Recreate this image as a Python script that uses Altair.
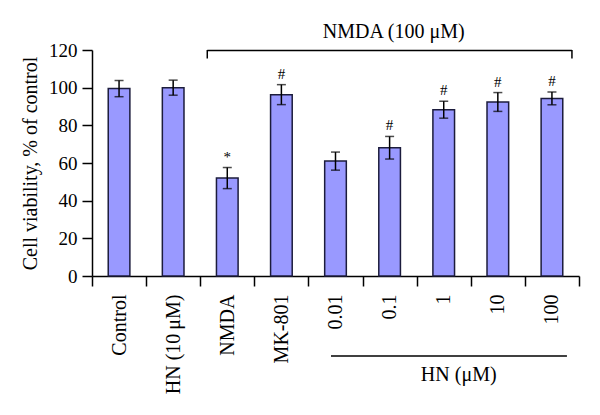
import altair as alt
import pandas as pd

categories = ["Control", "HN (10\u2009\u03bcM)", "NMDA", "MK-801", "0.01", "0.1", "1", "10", "100"]
means = [99.5, 100.0, 52.0, 96.3, 61.0, 68.1, 88.3, 92.4, 94.3]
sds = [4.3, 4.0, 5.6, 5.3, 4.8, 6.0, 4.5, 5.0, 3.4]
signif = ["", "", "*", "#", "", "#", "#", "#", "#"]
y_ticks = [0, 20, 40, 60, 80, 100, 120]

FONT = "Liberation Serif"

df = pd.DataFrame({
    "cat": categories,
    "mean": means,
    "lo": [m - s for m, s in zip(means, sds)],
    "hi": [m + s for m, s in zip(means, sds)],
    "sig": signif,
})

xscale = alt.Scale(domain=categories, paddingInner=0, paddingOuter=0)
xaxis = alt.Axis(
    title=None, labelAngle=270, tickBand="extent",
    labelFont=FONT, labelFontSize=20, labelColor="black",
    tickSize=10, tickColor="black", tickWidth=1.5,
    domainColor="black", domainWidth=1.5, labelPadding=8,
)
yscale = alt.Scale(domain=[0, 120], nice=False)
yaxis = alt.Axis(
    values=y_ticks, grid=False, title="Cell viability, % of control",
    labelFont=FONT, labelFontSize=19, labelColor="black", labelOverlap=False,
    titleFont=FONT, titleFontSize=20, titleFontWeight="normal", titleColor="black",
    tickSize=10, tickColor="black", tickWidth=1.5,
    domainColor="black", domainWidth=1.5, labelPadding=5, titlePadding=8,
)


def X(field):
    return alt.X(field, scale=xscale, axis=xaxis)


def Y(field):
    return alt.Y(field, scale=yscale, axis=yaxis)


base = alt.Chart(df).encode(x=X("cat:N"))

bars = base.mark_bar(
    width=alt.RelativeBandSize(0.4), fill="#9999ff", stroke="#1c1c3c", strokeWidth=1.5
).encode(y=Y("mean:Q"))

err = base.mark_rule(color="black", strokeWidth=1.5).encode(y=Y("lo:Q"), y2="hi:Q")
cap_lo = base.mark_tick(color="black", thickness=1.5, size=9).encode(y=Y("lo:Q"))
cap_hi = base.mark_tick(color="black", thickness=1.5, size=9).encode(y=Y("hi:Q"))
sig = base.mark_text(font=FONT, fontSize=15, baseline="bottom", dy=-3, color="black").encode(
    y=Y("hi:Q"), text="sig:N"
)

# NMDA bracket above the plot
br_df = pd.DataFrame({"start": ["NMDA"], "end": ["100"], "label": ["NMDA (100 \u03bcM)"], "mid": ["1"]})
br = alt.Chart(br_df)
br_h = br.mark_rule(color="black", strokeWidth=1.5, xOffset=-20, x2Offset=20).encode(
    x=X("start:N"), x2="end:N", y=alt.value(0.5)
)
br_l = br.mark_rule(color="black", strokeWidth=1.5, xOffset=-20).encode(
    x=X("start:N"), y=alt.value(0), y2=alt.value(8.5)
)
br_r = br.mark_rule(color="black", strokeWidth=1.5, xOffset=20).encode(
    x=X("end:N"), y=alt.value(0), y2=alt.value(8.5)
)
br_t = br.mark_text(font=FONT, fontSize=20, color="black", dx=-50).encode(
    x=X("mid:N"), y=alt.value(-18), text="label:N"
)

# HN line below the axis
hn_df = pd.DataFrame({"start": ["0.01"], "end": ["100"], "label": ["HN (\u03bcM)"], "mid": ["1"]})
hn = alt.Chart(hn_df)
hn_h = hn.mark_rule(color="black", strokeWidth=1.5, xOffset=-4.5, x2Offset=15).encode(
    x=X("start:N"), x2="end:N", y=alt.value(306)
)
hn_t = hn.mark_text(font=FONT, fontSize=20, color="black", dx=15).encode(
    x=X("mid:N"), y=alt.value(325), text="label:N"
)

chart = alt.layer(
    bars, err, cap_lo, cap_hi, sig, br_h, br_l, br_r, br_t, hn_h, hn_t
).properties(
    width=487, height=226,
    autosize=alt.AutoSizeParams(type="none"),
    padding={"left": 84, "top": 42, "right": 13, "bottom": 131},
).configure_view(stroke=None)

chart.save("out.html", embed_options={"renderer": "svg", "actions": False})
